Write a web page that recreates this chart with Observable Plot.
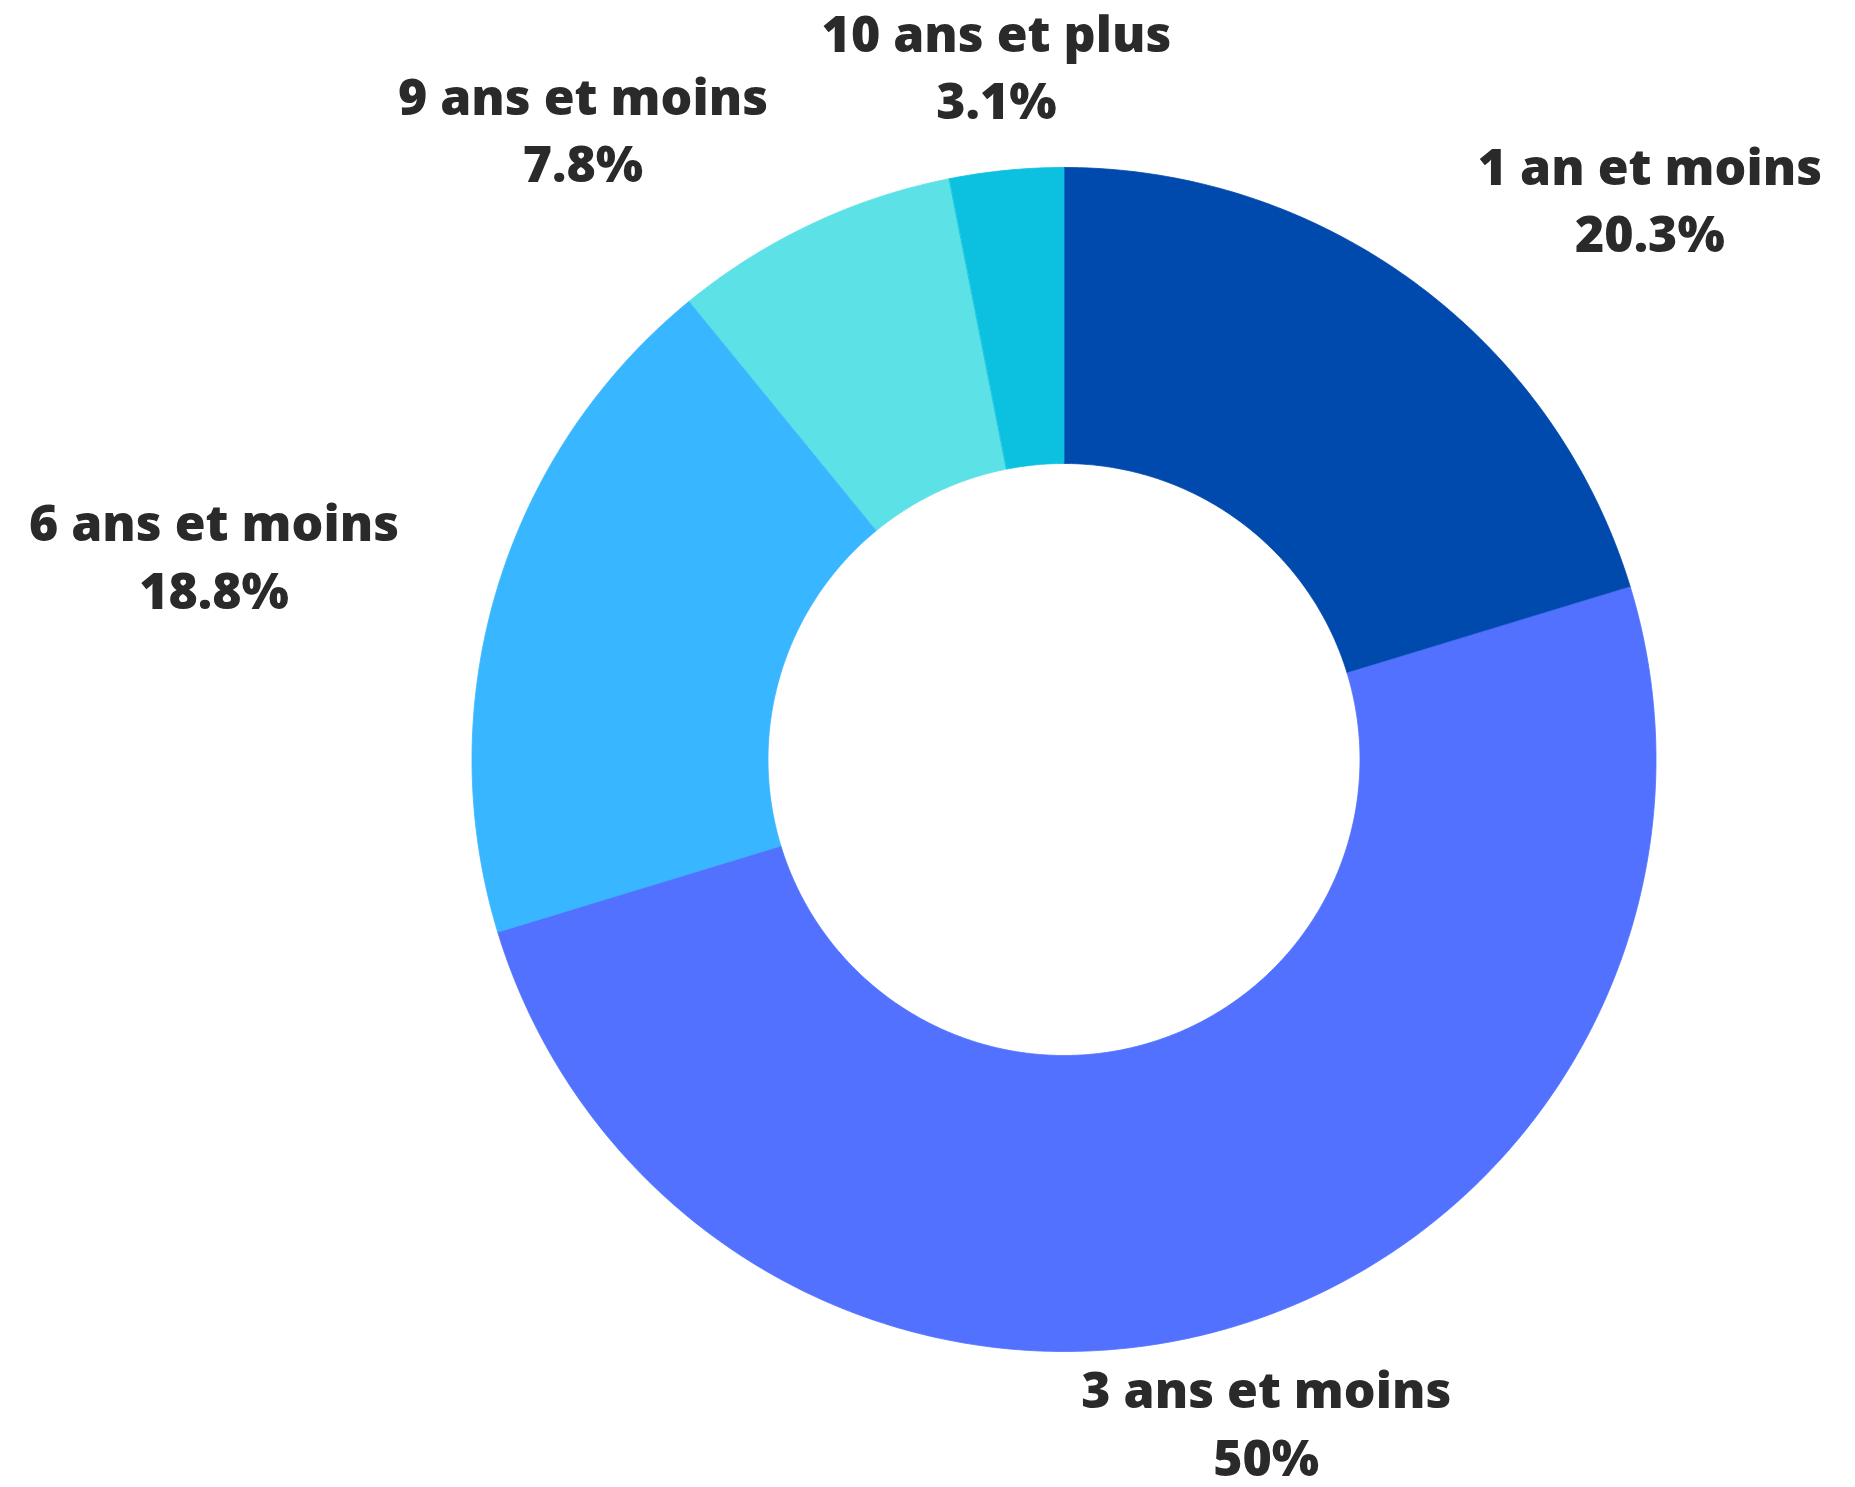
<!DOCTYPE html>
<html>
<head>
<meta charset="utf-8">
<script src="https://cdn.jsdelivr.net/npm/d3@7"></script>
<script src="https://cdn.jsdelivr.net/npm/@observablehq/plot@0.6"></script>
<style>
  html, body { margin: 0; padding: 0; background: #ffffff; }
  #chart svg { display: block; }
</style>
</head>
<body>
<div id="chart"></div>
<script>
// Data
const categories = ["1 an et moins", "3 ans et moins", "6 ans et moins", "9 ans et moins", "10 ans et plus"];
const values = [20.3, 50, 18.8, 7.8, 3.1];
const valueLabels = ["20.3%", "50%", "18.8%", "7.8%", "3.1%"];
const colors = ["#004AAD", "#5271FF", "#38B6FF", "#5CE1E6", "#0CC0DF"];

// Layout
const W = 1855, H = 1487;
const cx = 1063.5, cy = 759;
const rOuter = 592, rInner = 296, rLabel = 695;
const fontSize = 50;
const font = "'Open Sans', sans-serif";

const total = d3.sum(values);
const angles = [];
let acc = 0;
values.forEach((v) => {
  const a0 = acc / total * 2 * Math.PI;
  acc += v;
  const a1 = acc / total * 2 * Math.PI;
  angles.push({a0, a1, mid: (a0 + a1) / 2});
});

// Slice polygons (angle clockwise from top)
const poly = [];
categories.forEach((c, i) => {
  const {a0, a1} = angles[i];
  const n = Math.max(8, Math.ceil((a1 - a0) / (Math.PI / 360)));
  for (let k = 0; k <= n; k++) {
    const a = a0 + (a1 - a0) * k / n;
    poly.push({cat: c, x: rOuter * Math.sin(a), y: -rOuter * Math.cos(a)});
  }
  for (let k = n; k >= 0; k--) {
    const a = a0 + (a1 - a0) * k / n;
    poly.push({cat: c, x: rInner * Math.sin(a), y: -rInner * Math.cos(a)});
  }
});

// measure label widths so multi-line labels are centred blocks
const ctx = document.createElement("canvas").getContext("2d");
ctx.font = `800 ${fontSize}px 'Open Sans'`;
const labels = categories.map((c, i) => {
  const m = angles[i].mid;
  const s = Math.sin(m);
  const w = Math.max(ctx.measureText(c).width, ctx.measureText(valueLabels[i]).width);
  const side = s > 0.35 ? 1 : s < -0.35 ? -1 : 0;
  return {
    text: c + "\n" + valueLabels[i],
    x: rLabel * s + side * w / 2,
    y: -rLabel * Math.cos(m)
  };
});

const chart = Plot.plot({
  width: W,
  height: H,
  margin: 0,
  x: {domain: [-cx, W - cx], range: [0, W], axis: null},
  y: {domain: [-cy, H - cy], range: [0, H], axis: null},
  color: {domain: categories, range: colors},
  style: {background: "#ffffff", fontFamily: font},
  marks: [
    Plot.line(poly, {x: "x", y: "y", z: "cat", fill: "cat", stroke: "cat", strokeWidth: 0.8, curve: "linear-closed"}),
    Plot.text(labels, {
      x: "x", y: "y", text: "text",
      dy: -4,
      textAnchor: "middle",
      lineAnchor: "middle",
      lineHeight: 1.35,
      fontSize: fontSize,
      fontWeight: 800,
      fontFamily: font,
      fill: "#2a2a2a"
    })
  ]
});

document.getElementById("chart").appendChild(chart);
</script>
</body>
</html>
